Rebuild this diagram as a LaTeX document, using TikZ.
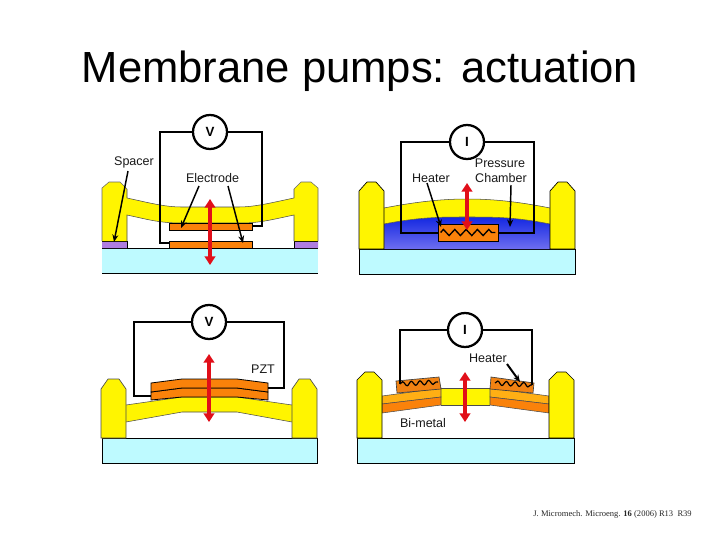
\documentclass[tikz,border=0pt]{standalone}
\usepackage{fontspec}
\setmainfont{Liberation Sans}
\newfontfamily\citefont{Liberation Serif}
\usetikzlibrary{arrows.meta,decorations.pathmorphing,calc}
\definecolor{memb}{RGB}{255,245,0}
\definecolor{subst}{RGB}{190,250,255}
\definecolor{elec}{RGB}{250,130,10}
\definecolor{amber}{RGB}{255,175,20}
\definecolor{spacercol}{RGB}{175,125,225}
\definecolor{redarrow}{RGB}{225,15,25}
\definecolor{bluetop}{RGB}{20,40,225}
\definecolor{bluemid}{RGB}{0,0,200}
\definecolor{bluebot}{RGB}{110,110,240}
\tikzset{
  pic frame/.style={x=0.75pt,y=-0.75pt},
  membrane/.style={fill=memb,draw=none},
  post/.style={fill=memb,draw=black,line width=0.5pt},
  substrate/.style={fill=subst,draw=black,line width=0.7pt},
  electrode/.style={fill=elec,draw=black,line width=0.6pt},
  meter/.style={circle,draw=black,fill=white,line width=1.7pt,minimum size=25.5pt,inner sep=0pt,font=\fontsize{10}{10}\selectfont\bfseries},
  wire/.style={draw=black,line width=1.7pt,line join=miter},
  thinwire/.style={draw=black,line width=1.3pt,line join=miter},
  motion/.style={draw=redarrow,line width=2.6pt,{Triangle[length=6.5pt,width=8pt]}-{Triangle[length=6.5pt,width=8pt]}},
  lead/.style={draw=black,line width=1.1pt,-{Stealth[length=5.5pt,width=4.5pt]}},
  lab/.style={inner sep=0pt,font=\fontsize{9.4}{10}\selectfont,text=black!90},
  coil/.style={draw=black,line width=1pt,decorate,decoration={zigzag,amplitude=2.3pt,segment length=8.5pt}},
  wavy/.style={draw=black,line width=0.9pt,decorate,decoration={snake,amplitude=1.6pt,segment length=6.5pt}},
}
\begin{document}
\begin{tikzpicture}[pic frame]
\useasboundingbox (0,0) rectangle (720,540);
\fill[white] (0,0) rectangle (720,540);
\node[inner sep=0pt,font=\fontsize{32.7}{36}\selectfont] (title) at (360,71) {Membrane pumps: actuation};
\node[inner sep=0pt,anchor=east,font=\citefont\fontsize{6.4}{7}\selectfont,text=black!85] (cite) at (692,514) {J. Micromech. Microeng. \textbf{16} (2006) R13\enspace R39};

% ---------- Panel 1 (top left)
\path[substrate,draw=none] (102,248) rectangle (318,273);
\draw[black,line width=0.7pt] (102,248)--(318,248) (102,273)--(318,273);
\fill[spacercol] (102,241) rectangle (127,248) (294,241) rectangle (318,248);
\draw[black,line width=0.6pt] (102,241)--(127,241)--(127,248) (294,248)--(294,241)--(318,241);
\fill[membrane] (102,241)--(102,188)--(109,182)--(120,182)--(127,189)--(127,198)
  .. controls (150,203) and (165,207) .. (182,207)--(238,207)
  .. controls (255,207) and (270,203) .. (294,198)
  --(294,189)--(301,182)--(311,182)--(318,188)--(318,241)--(294,241)--(294,215)
  .. controls (270,220) and (260,223) .. (240,223)--(182,223)
  .. controls (160,223) and (150,220) .. (127,215)--(127,241)--cycle;
\draw[black!70,line width=0.4pt] (127,189)--(127,198) .. controls (150,203) and (165,207) .. (182,207)--(238,207) .. controls (255,207) and (270,203) .. (294,198)--(294,189);
\draw[black!70,line width=0.4pt] (127,241)--(127,215) .. controls (150,220) and (160,223) .. (182,223)--(240,223) .. controls (260,223) and (270,220) .. (294,215)--(294,241);
\draw[black!60,line width=0.4pt] (102,241)--(102,188)--(109,182)--(120,182)--(127,189) (294,189)--(301,182)--(311,182)--(318,188)--(318,241);
\node[electrode,minimum width=62.2pt,minimum height=5.2pt,inner sep=0pt] (e1t) at (210.5,226.5) {};
\node[electrode,minimum width=62.2pt,minimum height=5.2pt,inner sep=0pt] (e1b) at (210.5,244.5) {};
\node[meter] (v1) at (210,132) {V};
\coordinate (w1a) at (160,132); \coordinate (w1b) at (160,243);
\coordinate (w1c) at (262,132); \coordinate (w1d) at (262,226);
\draw[wire] (v1) -- (w1a) -- (w1b) -- (e1b.west |- w1b);
\draw[wire] (v1) -- (w1c) -- (w1d) -- (e1t.east |- w1d);
\coordinate (m1a) at (210,199); \coordinate (m1b) at (210,265);
\draw[motion] (m1a) -- (m1b);
\node[lab] (spacer) at (134,162) {Spacer};
\node[lab] (electrode) at (212.5,178) {Electrode};
\coordinate (s1) at (114,242); \coordinate (e1x) at (181,228); \coordinate (e1y) at (243,243);
\draw[lead] (128,171) -- (s1);
\draw[lead] (199,186) -- (e1x);
\draw[lead] (228,186) -- (e1y);

% ---------- Panel 2 (top right)
\draw[substrate] (359,249) rectangle (575,274);
\shade[top color=bluetop,middle color=bluemid,bottom color=bluebot]
  (384,249)--(384,224) .. controls (420,217) and (440,217) .. (467,217) .. controls (495,217) and (515,217) .. (550,224)--(550,249)--cycle;
\path[membrane] (384,208) .. controls (420,201) and (445,199) .. (467,199) .. controls (490,199) and (515,201) .. (550,208)
  --(550,224) .. controls (515,217) and (495,217) .. (467,217) .. controls (440,217) and (420,217) .. (384,224)--cycle;
\draw[black!70,line width=0.4pt] (384,208) .. controls (420,201) and (445,199) .. (467,199) .. controls (490,199) and (515,201) .. (550,208);
\draw[black!70,line width=0.4pt] (384,224) .. controls (420,217) and (440,217) .. (467,217) .. controls (495,217) and (515,217) .. (550,224);
\draw[post] (359,249)--(359,191)--(367,182)--(376,182)--(384,191)--(384,249)--cycle;
\draw[post] (550,249)--(550,191)--(558,182)--(567,182)--(575,191)--(575,249)--cycle;
\node[electrode,minimum width=45pt,minimum height=12.7pt,inner sep=0pt] (h2) at (468,232.5) {};
\coordinate (c2a) at ($(h2.west)+(3,0)$); \coordinate (c2b) at ($(h2.east)+(-3,0)$);
\draw[coil] (c2a) -- (c2b);
\node[meter] (i2) at (467,142) {I};
\coordinate (w2a) at (401,142); \coordinate (w2b) at (401,233);
\coordinate (w2c) at (534,142); \coordinate (w2d) at (534,233);
\draw[wire] (i2) -- (w2a) -- (w2b) -- (h2.west |- w2b);
\draw[wire] (i2) -- (w2c) -- (w2d) -- (h2.east |- w2d);
\coordinate (m2a) at (467,183); \coordinate (m2b) at (467,230);
\draw[motion] (m2a) -- (m2b);
\node[lab] (pressure) at (500,163) {Pressure};
\node[lab] (chamber) at (501,178) {Chamber};
\node[lab] (heater2) at (431,178) {Heater};
\coordinate (h2x) at (441,227); \coordinate (c2x) at (510,227);
\draw[lead] (427,183) -- (h2x);
\draw[lead] (511,185) -- (c2x);

% ---------- Panel 3 (bottom left)
\draw[substrate] (102,438) rectangle (317,463);
\path[membrane] (126,405)--(182,397)--(237,397)--(292,405)--(292,422)--(237,412)--(182,412)--(126,422)--cycle;
\draw[black!70,line width=0.4pt] (126,405)--(182,397)--(237,397)--(292,405);
\draw[black!70,line width=0.4pt] (126,422)--(182,412)--(237,412)--(292,422);
\draw[post,draw=black!70] (126,438)--(101,438)--(101,389)--(108,379)--(119,379)--(126,389)--cycle;
\draw[post,draw=black!70] (292,438)--(317,438)--(317,389)--(310,379)--(299,379)--(292,389)--cycle;
\draw[electrode] (151,392)--(182,388)--(237,388)--(268,392)--(268,400)--(237,397)--(182,397)--(151,400)--cycle;
\draw[electrode] (151,383)--(182,379)--(237,379)--(268,383)--(268,392)--(237,388)--(182,388)--(151,392)--cycle;
\coordinate (pl) at (151,396); \coordinate (pr) at (268,388);
\node[meter] (v3) at (209,322) {V};
\coordinate (w3a) at (134,322); \coordinate (w3b) at (134,396);
\coordinate (w3c) at (284,322); \coordinate (w3d) at (284,388);
\draw[wire] (v3) -- (w3a) -- (w3b) -- (pl);
\draw[wire] (v3) -- (w3c) -- (w3d) -- (pr);
\coordinate (m3a) at (209,354); \coordinate (m3b) at (209,422);
\draw[motion] (m3a) -- (m3b);
\node[lab] (pzt) at (263,369) {PZT};

% ---------- Panel 4 (bottom right)
\draw[substrate] (357,438) rectangle (574,463);
\fill[memb] (441,388) rectangle (490,405);
\draw[black!70,line width=0.4pt] (441,388)--(490,388) (441,405)--(490,405);
\draw[fill=amber,draw=black!70,line width=0.4pt] (382,396)--(441,388)--(441,397)--(382,404)--cycle;
\draw[fill=elec,draw=black!70,line width=0.4pt] (382,404)--(441,397)--(441,405)--(382,413)--cycle;
\draw[fill=amber,draw=black!70,line width=0.4pt] (549,396)--(490,388)--(490,397)--(549,404)--cycle;
\draw[fill=elec,draw=black!70,line width=0.4pt] (549,404)--(490,397)--(490,405)--(549,413)--cycle;
\draw[post] (382,438)--(357,438)--(357,380)--(365,372)--(374,372)--(382,380)--cycle;
\draw[post] (549,438)--(574,438)--(574,380)--(566,372)--(557,372)--(549,380)--cycle;
\draw[fill=elec!85!brown,draw=black!75,line width=0.5pt] (396,381)--(439,377)--(441,389)--(397,393)--cycle;
\draw[fill=elec!85!brown,draw=black!75,line width=0.5pt] (491,377)--(534,383)--(533,393)--(490,389)--cycle;
\coordinate (cl1) at (400,384); \coordinate (cl2) at (438,382);
\coordinate (cr1) at (495,383); \coordinate (cr2) at (532,385);
\draw[wavy] (cl1) -- (cl2);
\draw[wavy] (cr1) -- (cr2);
\node[meter] (i4) at (465,330) {I};
\coordinate (w4a) at (400,330); \coordinate (w4c) at (532,330);
\draw[thinwire] (i4) -- (w4a) -- (cl1);
\draw[thinwire] (i4) -- (w4c) -- (cr2);
\coordinate (m4a) at (465,372); \coordinate (m4b) at (465,422);
\draw[motion] (m4a) -- (m4b);
\node[lab] (heater4) at (488,358) {Heater};
\node[lab] (bimetal) at (423,423) {Bi-metal};
\coordinate (h4x) at (520,382);
\draw[lead,line width=1.5pt] (507,364) -- (h4x);
\end{tikzpicture}
\end{document}
